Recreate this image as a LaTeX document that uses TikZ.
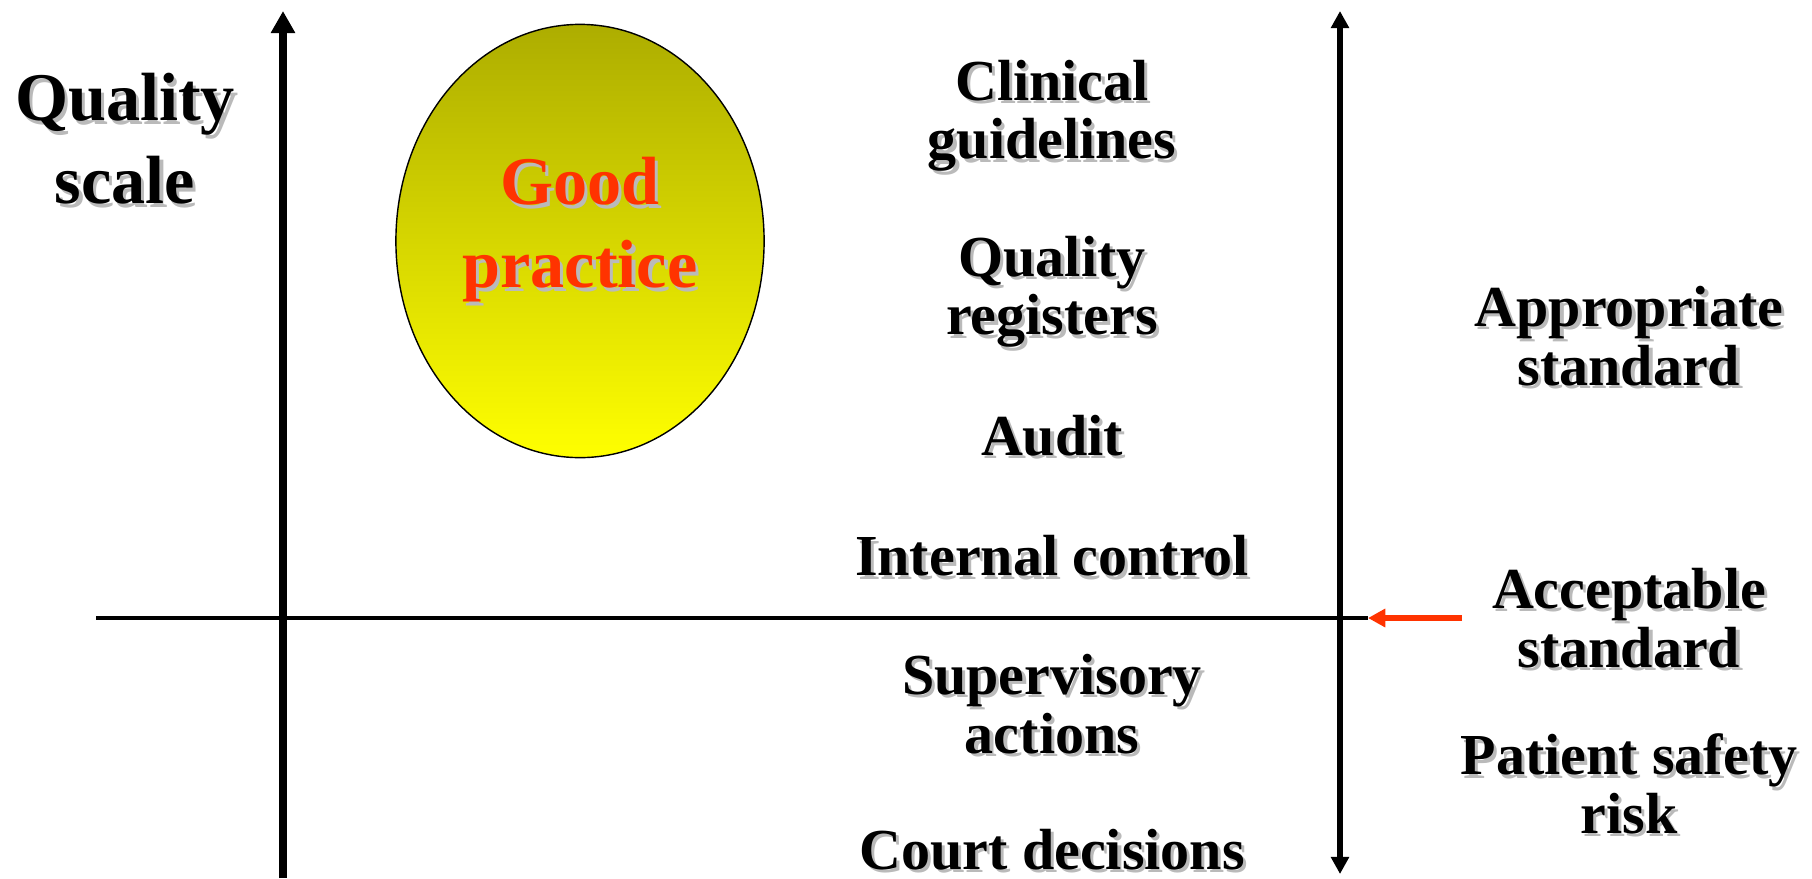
\documentclass[tikz,border=0pt]{standalone}
\usepackage{fontspec}
\setmainfont{Liberation Serif}
\usetikzlibrary{positioning,arrows.meta,shapes.geometric}

\begin{document}
\begin{tikzpicture}[x=0.01cm, y=-0.01cm]
    \tikzstyle{big text}=[font=\fontsize{19.4}{23.6}\selectfont\bfseries, align=center, inner sep=0pt]
    \tikzstyle{small text}=[font=\fontsize{16.5}{16.6}\selectfont\bfseries, align=center, inner sep=0pt]
    \tikzstyle{shadow}=[text=black!27, xshift=\shadowsep, yshift=-\shadowsep]
    \tikzstyle{axis}=[line width=2.3pt, -{Triangle[width=6.6pt,length=6.3pt]}]
    \tikzstyle{scale axis}=[line width=1.7pt, {Triangle[width=5pt,length=4.9pt]}-{Triangle[width=5pt,length=4.9pt]}]
    \tikzstyle{level line}=[line width=1.1pt]
    \tikzstyle{level arrow}=[line width=1.5pt, draw={rgb,255:red,255;green,51;blue,0}, -{Triangle[width=5pt,length=4.9pt]}]
    \tikzstyle{practice}=[ellipse, draw=black, line width=0.4pt, minimum width=3.68cm, minimum height=4.33cm,
        top color={rgb,255:red,173;green,173;blue,0}, bottom color={rgb,255:red,255;green,255;blue,0}]

    \newcommand{\shadowsep}{0.9pt}

    \useasboundingbox (0,0) rectangle (1812,878);

    % Draw the good practice ellipse
    \node[practice] (gp) at (580,241) {};

    % Draw the axes
    \coordinate (qa-bot) at (283,878);
    \coordinate (qa-top) at (283,11);
    \coordinate (sa-top) at (1340,11);
    \coordinate (sa-bot) at (1340,874);
    \coordinate (lv-start) at (96,618);
    \coordinate (lv-end) at (1368,618);
    \draw[axis] (qa-bot) -- (qa-top);
    \draw[scale axis] (sa-bot) -- (sa-top);
    \draw[level line] (lv-start) -- (lv-end);

    % Draw the big labels
    \foreach \name/\x/\y/\txt in {qs/125/139/{Quality\\scale}}
    {
        \node[big text, shadow] (\name-s) at (\x,\y) {\txt};
        \node[big text] (\name) at (\x,\y) {\txt};
    }
    \node[big text, shadow] (good-s) at (580,230) {Good\\practice};
    \node[big text, text={rgb,255:red,255;green,51;blue,0}] (good) at (580,230) {Good\\practice};

    % Draw the tools in the middle column
    \foreach \name/\y/\txt in {clin/116/{Clinical\\guidelines}, qreg/292/{Quality\\registers},
        audit/436/{Audit}, intc/556/{Internal control}, superv/704/{Supervisory\\actions},
        court/850/{Court decisions}}
    {
        \node[small text, shadow] (\name-s) at (1052,\y) {\txt};
        \node[small text] (\name) at (1052,\y) {\txt};
    }

    % Draw the standards in the right column
    \foreach \name/\y/\txt in {appr/336/{Appropriate\\standard}, acc/618/{Acceptable\\standard},
        risk/784/{Patient safety\\risk}}
    {
        \node[small text, shadow] (\name-s) at (1629,\y) {\txt};
        \node[small text] (\name) at (1629,\y) {\txt};
    }

    % Point the acceptable standard at the level line
    \coordinate (acc-in) at (1462,618);
    \draw[level arrow] (acc-in) -- (lv-end);
\end{tikzpicture}
\end{document}
